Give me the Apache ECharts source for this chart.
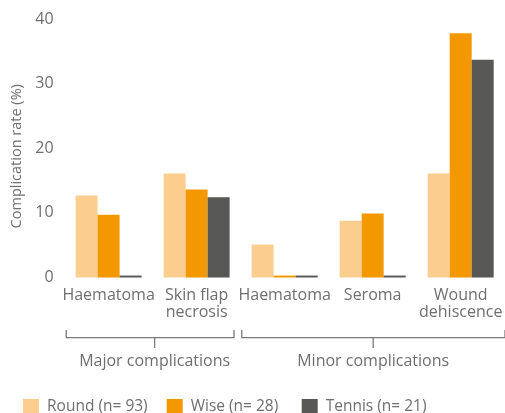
<!DOCTYPE html>
<html><head><meta charset="utf-8">
<script src="https://cdn.jsdelivr.net/npm/echarts@6/dist/echarts.min.js"></script>
<style>html,body{margin:0;padding:0;background:#fff}#c{width:505px;height:413px}</style>
</head><body><div id="c"></div>
<script>
const categories = ["Haematoma", "Skin flap\nnecrosis", "Haematoma", "Seroma", "Wound\ndehiscence"];
const roundVals = [12.7, 16.1, 5.1, 8.8, 16.1];
const wiseVals = [9.7, 13.6, 0.3, 9.9, 37.8];
const tennisVals = [0.3, 12.4, 0.3, 0.3, 33.7];
const seriesNames = ["Round (n= 93)", "Wise (n= 28)", "Tennis (n= 21)"];
const groupNames = ["Major complications", "Minor complications"];
const yTicks = [0, 40, 10];

const FONT = '"Open Sans", "Noto Sans", sans-serif';
const TXT = '#6f6f6e';
const colors = ['#fbce90', '#f39800', '#575756'];
const chart = echarts.init(document.getElementById('c'), null, {renderer: 'canvas'});
const gridLeft = 64.6, gridWidth = 443.75, gridTop = 19, gridH = 258.5;
const legendLefts = [18, 161.7, 296.7];
const option = {
  animation: false,
  textStyle: {fontFamily: FONT},
  grid: {left: gridLeft, width: gridWidth, top: gridTop, height: gridH},
  legend: seriesNames.map((n, i) => ({
    left: legendLefts[i], top: 394, itemWidth: 16, itemHeight: 16,
    icon: 'rect', selectedMode: false,
    textStyle: {fontSize: 15.5, color: TXT, fontFamily: FONT, padding: [0, 0, 0, 3]},
    data: [n]
  })),
  xAxis: {
    type: 'category', data: categories,
    axisLine: {show: false}, axisTick: {show: false},
    axisLabel: {fontSize: 16, color: TXT, lineHeight: 17, margin: 9, interval: 0, fontFamily: FONT}
  },
  yAxis: {
    type: 'value', min: yTicks[0], max: yTicks[1], interval: yTicks[2],
    name: 'Complication rate (%)', nameLocation: 'middle', nameGap: 28,
    nameTextStyle: {fontSize: 14.5, color: TXT, fontFamily: FONT, padding: [0, 16, 0, 0]},
    axisLine: {show: false}, axisTick: {show: false}, splitLine: {show: false},
    axisLabel: {fontSize: 16, color: TXT, margin: 11, fontFamily: FONT}
  },
  series: [roundVals, wiseVals, tennisVals].map((d, i) => ({
    type: 'bar', name: seriesNames[i], data: d, barWidth: 22, barGap: '0%',
    itemStyle: {color: colors[i]}
  }))
};
chart.setOption(option);

// brackets for groups
const band = gridWidth / categories.length;
const cx = i => chart.convertToPixel({xAxisIndex: 0}, i);
const yTop = 330, yMid = 337.7, yTick = 348;
function bracket(x1, x2, xc, label) {
  return [
    {type: 'polyline', shape: {points: [[x1, yTop], [x1, yMid], [x2, yMid], [x2, yTop]]}, style: {stroke: '#7a7a79', lineWidth: 1.3, fill: null}},
    {type: 'line', shape: {x1: xc, y1: yMid, x2: xc, y2: yTick}, style: {stroke: '#7a7a79', lineWidth: 1.3}},
    {type: 'text', x: xc, y: 361, style: {text: label, fontSize: 16, fill: TXT, fontFamily: FONT, align: 'center', verticalAlign: 'middle'}}
  ];
}
const g = [].concat(
  bracket(cx(0) - band / 2 + 2, cx(1) + band / 2 - 7, (cx(0) + cx(1)) / 2 + 2, groupNames[0]),
  bracket(cx(2) - band / 2 + 1.5, 505, cx(3) + 0.5, groupNames[1])
);
chart.setOption({graphic: g});
</script></body></html>
